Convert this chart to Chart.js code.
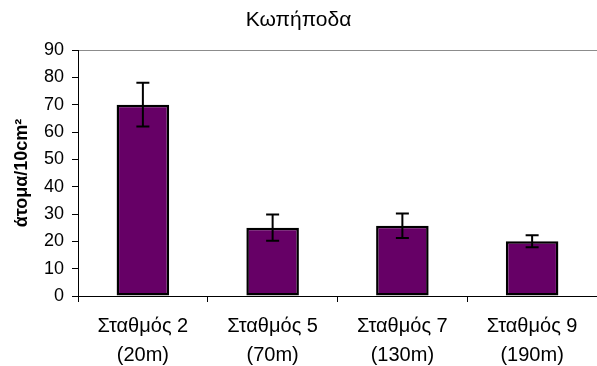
<!DOCTYPE html>
<html>
<head>
<meta charset="utf-8">
<script src="https://cdn.jsdelivr.net/npm/chart.js@4/dist/chart.umd.min.js"></script>
<style>
  html, body { margin: 0; padding: 0; background: #fff; }
  #wrap { width: 597px; height: 366px; }
</style>
</head>
<body>
<div id="wrap"><canvas id="c"></canvas></div>
<script>
"use strict";

// ── Data ─────────────────────────────────────────────────────────────────────
const STATIONS = [["Σταθμός 2", "(20m)"], ["Σταθμός 5", "(70m)"], ["Σταθμός 7", "(130m)"], ["Σταθμός 9", "(190m)"]];
const DENSITY  = [70, 25, 25.7, 20];     // άτομα/10cm²
const ERRORS   = [8, 4.8, 4.5, 2.2];     // ± error bar
const Y_TICKS  = { min: 0, max: 90, step: 10 };

const FONT = "'Liberation Sans', Arial, sans-serif";

// ── Error bars drawn through the y scale ──
const errorBars = {
  id: "errorBars",
  afterDatasetsDraw(chart) {
    const { ctx } = chart;
    const y = chart.scales.y;
    const meta = chart.getDatasetMeta(0);
    ctx.save();
    ctx.strokeStyle = "#000";
    ctx.lineWidth = 2;
    meta.data.forEach((bar, i) => {
      const top = y.getPixelForValue(DENSITY[i] + ERRORS[i]);
      const bot = y.getPixelForValue(DENSITY[i] - ERRORS[i]);
      const half = 6.5;
      ctx.beginPath();
      ctx.moveTo(bar.x, top); ctx.lineTo(bar.x, bot);
      ctx.moveTo(bar.x - half, top); ctx.lineTo(bar.x + half, top);
      ctx.moveTo(bar.x - half, bot); ctx.lineTo(bar.x + half, bot);
      ctx.stroke();
    });
    ctx.restore();
  },
};

new Chart(document.getElementById("c"), {
  type: "bar",
  data: {
    labels: STATIONS,
    datasets: [{
      data: DENSITY,
      backgroundColor: "#660066",
      borderColor: "#000",
      borderWidth: 2.5,
      borderSkipped: false,
      barPercentage: 0.405,
      categoryPercentage: 1,
    }],
  },
  plugins: [errorBars],
  options: {
    responsive: true,
    maintainAspectRatio: false,
    animation: false,
    layout: { padding: 0 },
    plugins: {
      legend: { display: false },
      tooltip: { enabled: false },
      title: {
        display: true,
        text: "Κωπήποδα",
        color: "#000",
        font: { family: FONT, size: 21, weight: "normal", lineHeight: 1.2 },
        padding: { top: 8, bottom: 16.8 },
      },
    },
    scales: {
      x: {
        afterFit: s => { s.height = 70; },
        border: { color: "#000", width: 1 },
        grid: { offset: true, drawOnChartArea: false, drawTicks: true, tickLength: 6, color: "#000" },
        ticks: { color: "#000", padding: 9.5, maxRotation: 0, font: { family: FONT, size: 20, lineHeight: 1.45 } },
      },
      y: {
        min: Y_TICKS.min,
        max: Y_TICKS.max,
        afterFit: s => { s.width = 78; },
        border: { color: "#000", width: 1 },
        grid: {
          color: ctx => ctx.tick && ctx.tick.value === Y_TICKS.max ? "#8c8c8c" : "rgba(0,0,0,0)",
          tickColor: "#000",
          tickLength: 6,
        },
        ticks: { stepSize: Y_TICKS.step, color: "#000", padding: 8, font: { family: FONT, size: 18 } },
        title: {
          display: true,
          text: "άτομα/10cm²",
          color: "#000",
          font: { family: FONT, size: 18, weight: "bold" },
          padding: { top: 11, bottom: 0 },
        },
      },
    },
  },
});
</script>
</body>
</html>
